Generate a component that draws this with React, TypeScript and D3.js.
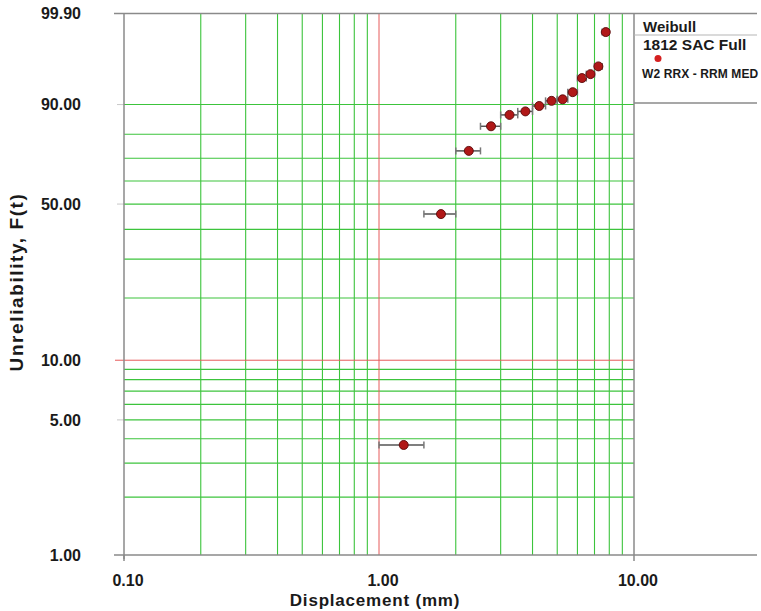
import React from 'react';
import * as d3 from 'd3';

const width = 761;
const height = 611;
const plot = { left: 124, right: 634, edge: 757, top: 13.5, bottom: 555 };

// grouped displacement data: interval bounds, plotted midpoint and unreliability (%)
const lowerBounds = [1.0, 1.5, 2.0, 2.5, 3.0, 3.5, 4.0, 4.5, 5.0, 5.5, 6.0, 6.5, 7.0, 7.5];
const upperBounds = [1.5, 2.0, 2.5, 3.0, 3.5, 4.0, 4.5, 5.0, 5.5, 6.0, 6.5, 7.0, 7.5, 8.0];
const midpoints = [1.25, 1.75, 2.25, 2.75, 3.25, 3.75, 4.25, 4.75, 5.25, 5.75, 6.25, 6.75, 7.25, 7.75];
const unreliability = [3.72, 45.9, 73.2, 83.0, 86.9, 88.0, 89.6, 91.0, 91.4, 93.1, 95.8, 96.4, 97.4, 99.6];

const xTickValues = [0.1, 1, 10];
const yTickValues = [1, 5, 10, 50, 90, 99.9];
const xGridValues = [0.2, 0.3, 0.4, 0.5, 0.6, 0.7, 0.8, 0.9, 2, 3, 4, 5, 6, 7, 8, 9];
const yGridValues = [2, 3, 4, 5, 6, 7, 8, 9, 20, 30, 40, 50, 60, 70, 80, 90];
const xRedValue = 1;
const yRedValue = 10;

const legendTitle = 'Weibull';
const legendSubtitle = '1812 SAC Full';
const seriesName = 'W2 RRX - RRM MED';

const green = '#3cc43c';
const red = '#e65a5a';
const gray = '#8a8a8a';
const font = '"Liberation Sans", Arial, sans-serif';

const weibull = (p: number) => Math.log(-Math.log(1 - p / 100));

const App = () => {
  const xScale = d3.scaleLog().domain([0.1, 10]).range([plot.left, plot.right]);
  const wScale = d3
    .scaleLinear()
    .domain([weibull(1), weibull(99.9)])
    .range([plot.bottom, plot.top]);
  const yScale = (p: number) => wScale(weibull(p));

  const points = midpoints.map((m, i) => ({
    x: m,
    lo: lowerBounds[i],
    hi: upperBounds[i],
    f: unreliability[i],
  }));

  return (
    <svg
      width={width}
      height={height}
      style={{ position: 'absolute', left: 0, top: 0, background: '#fff' }}
      fontFamily={font}
      fontWeight="bold"
    >
      {/* vertical grid */}
      {xGridValues.map(v => (
        <line key={'xg' + v} x1={xScale(v)} x2={xScale(v)} y1={plot.top} y2={plot.bottom} stroke={green} strokeWidth={1.1} />
      ))}
      {/* horizontal grid */}
      {yGridValues.map(v => (
        <line key={'yg' + v} x1={plot.left} x2={plot.right} y1={yScale(v)} y2={yScale(v)} stroke={green} strokeWidth={1.1} />
      ))}
      {/* small left ticks for labelled grid lines */}
      {[5, 50, 90].map(v => (
        <line key={'lt' + v} x1={plot.left - 7} x2={plot.left} y1={yScale(v)} y2={yScale(v)} stroke="#c8c8c8" />
      ))}
      <line x1={xScale(xRedValue)} x2={xScale(xRedValue)} y1={plot.top} y2={plot.bottom} stroke={red} />
      <line x1={plot.left - 9} x2={plot.right} y1={yScale(yRedValue)} y2={yScale(yRedValue)} stroke={red} />

      {/* axes and frame */}
      <line x1={plot.left} x2={plot.left} y1={plot.top} y2={plot.bottom + 4} stroke={gray} strokeWidth={1.5} />
      <line x1={plot.right} x2={plot.right} y1={plot.top} y2={plot.bottom + 6} stroke={gray} strokeWidth={1.5} />
      <line x1={plot.left - 10} x2={plot.edge} y1={plot.top} y2={plot.top} stroke={gray} strokeWidth={1.5} />
      <line x1={plot.left - 10} x2={plot.edge} y1={plot.bottom} y2={plot.bottom} stroke={gray} strokeWidth={1.5} />
      <line x1={plot.left} x2={plot.left} y1={plot.bottom} y2={plot.bottom + 6} stroke={gray} strokeWidth={1.5} />

      {/* legend box */}
      <line x1={plot.right} x2={plot.edge} y1={35} y2={35} stroke="#b5b5b5" strokeWidth={1} />
      <line x1={plot.right} x2={plot.edge} y1={103} y2={103} stroke={gray} strokeWidth={1.5} />
      <text x={643} y={32} fontSize={15} fill="#1a1a1a">{legendTitle}</text>
      <text x={643} y={50} fontSize={15.5} fill="#1a1a1a">{legendSubtitle}</text>
      <circle cx={658} cy={58.5} r={3.5} fill="#d42020" />
      <text x={642} y={78} fontSize={12} fill="#1a1a1a" letterSpacing={0.1}>{seriesName}</text>

      {/* y tick labels */}
      {yTickValues.map(v => (
        <text key={'yt' + v} x={81} y={yScale(v)} dy="0.36em" textAnchor="end" fontSize={16} fill="#1a1a1a">
          {v.toFixed(2)}
        </text>
      ))}
      {/* x tick labels */}
      {xTickValues.map(v => (
        <text key={'xt' + v} x={xScale(v) + 4} y={586} textAnchor="middle" fontSize={16} fill="#1a1a1a">
          {v.toFixed(2)}
        </text>
      ))}

      {/* axis titles */}
      <text x={375} y={606} textAnchor="middle" fontSize={17} fill="#1a1a1a" letterSpacing={0.8}>
        Displacement (mm)
      </text>
      <text
        transform={`translate(23, 282) rotate(-90)`}
        textAnchor="middle"
        fontSize={19}
        fill="#1a1a1a"
        letterSpacing={1.6}
      >
        Unreliability, F(t)
      </text>

      {/* data with interval bars */}
      {points.map((d, i) => {
        const cy = yScale(d.f);
        return (
          <g key={'p' + i}>
            <line x1={xScale(d.lo)} x2={xScale(d.hi)} y1={cy} y2={cy} stroke="#555" strokeWidth={1.5} />
            <line x1={xScale(d.lo)} x2={xScale(d.lo)} y1={cy - 3.5} y2={cy + 3.5} stroke="#777" strokeWidth={1.5} />
            <line x1={xScale(d.hi)} x2={xScale(d.hi)} y1={cy - 3.5} y2={cy + 3.5} stroke="#777" strokeWidth={1.5} />
            <circle cx={xScale(d.x)} cy={cy} r={4.5} fill="#b01818" stroke="#5a0808" strokeWidth={0.9} />
          </g>
        );
      })}
    </svg>
  );
};

export default App;
